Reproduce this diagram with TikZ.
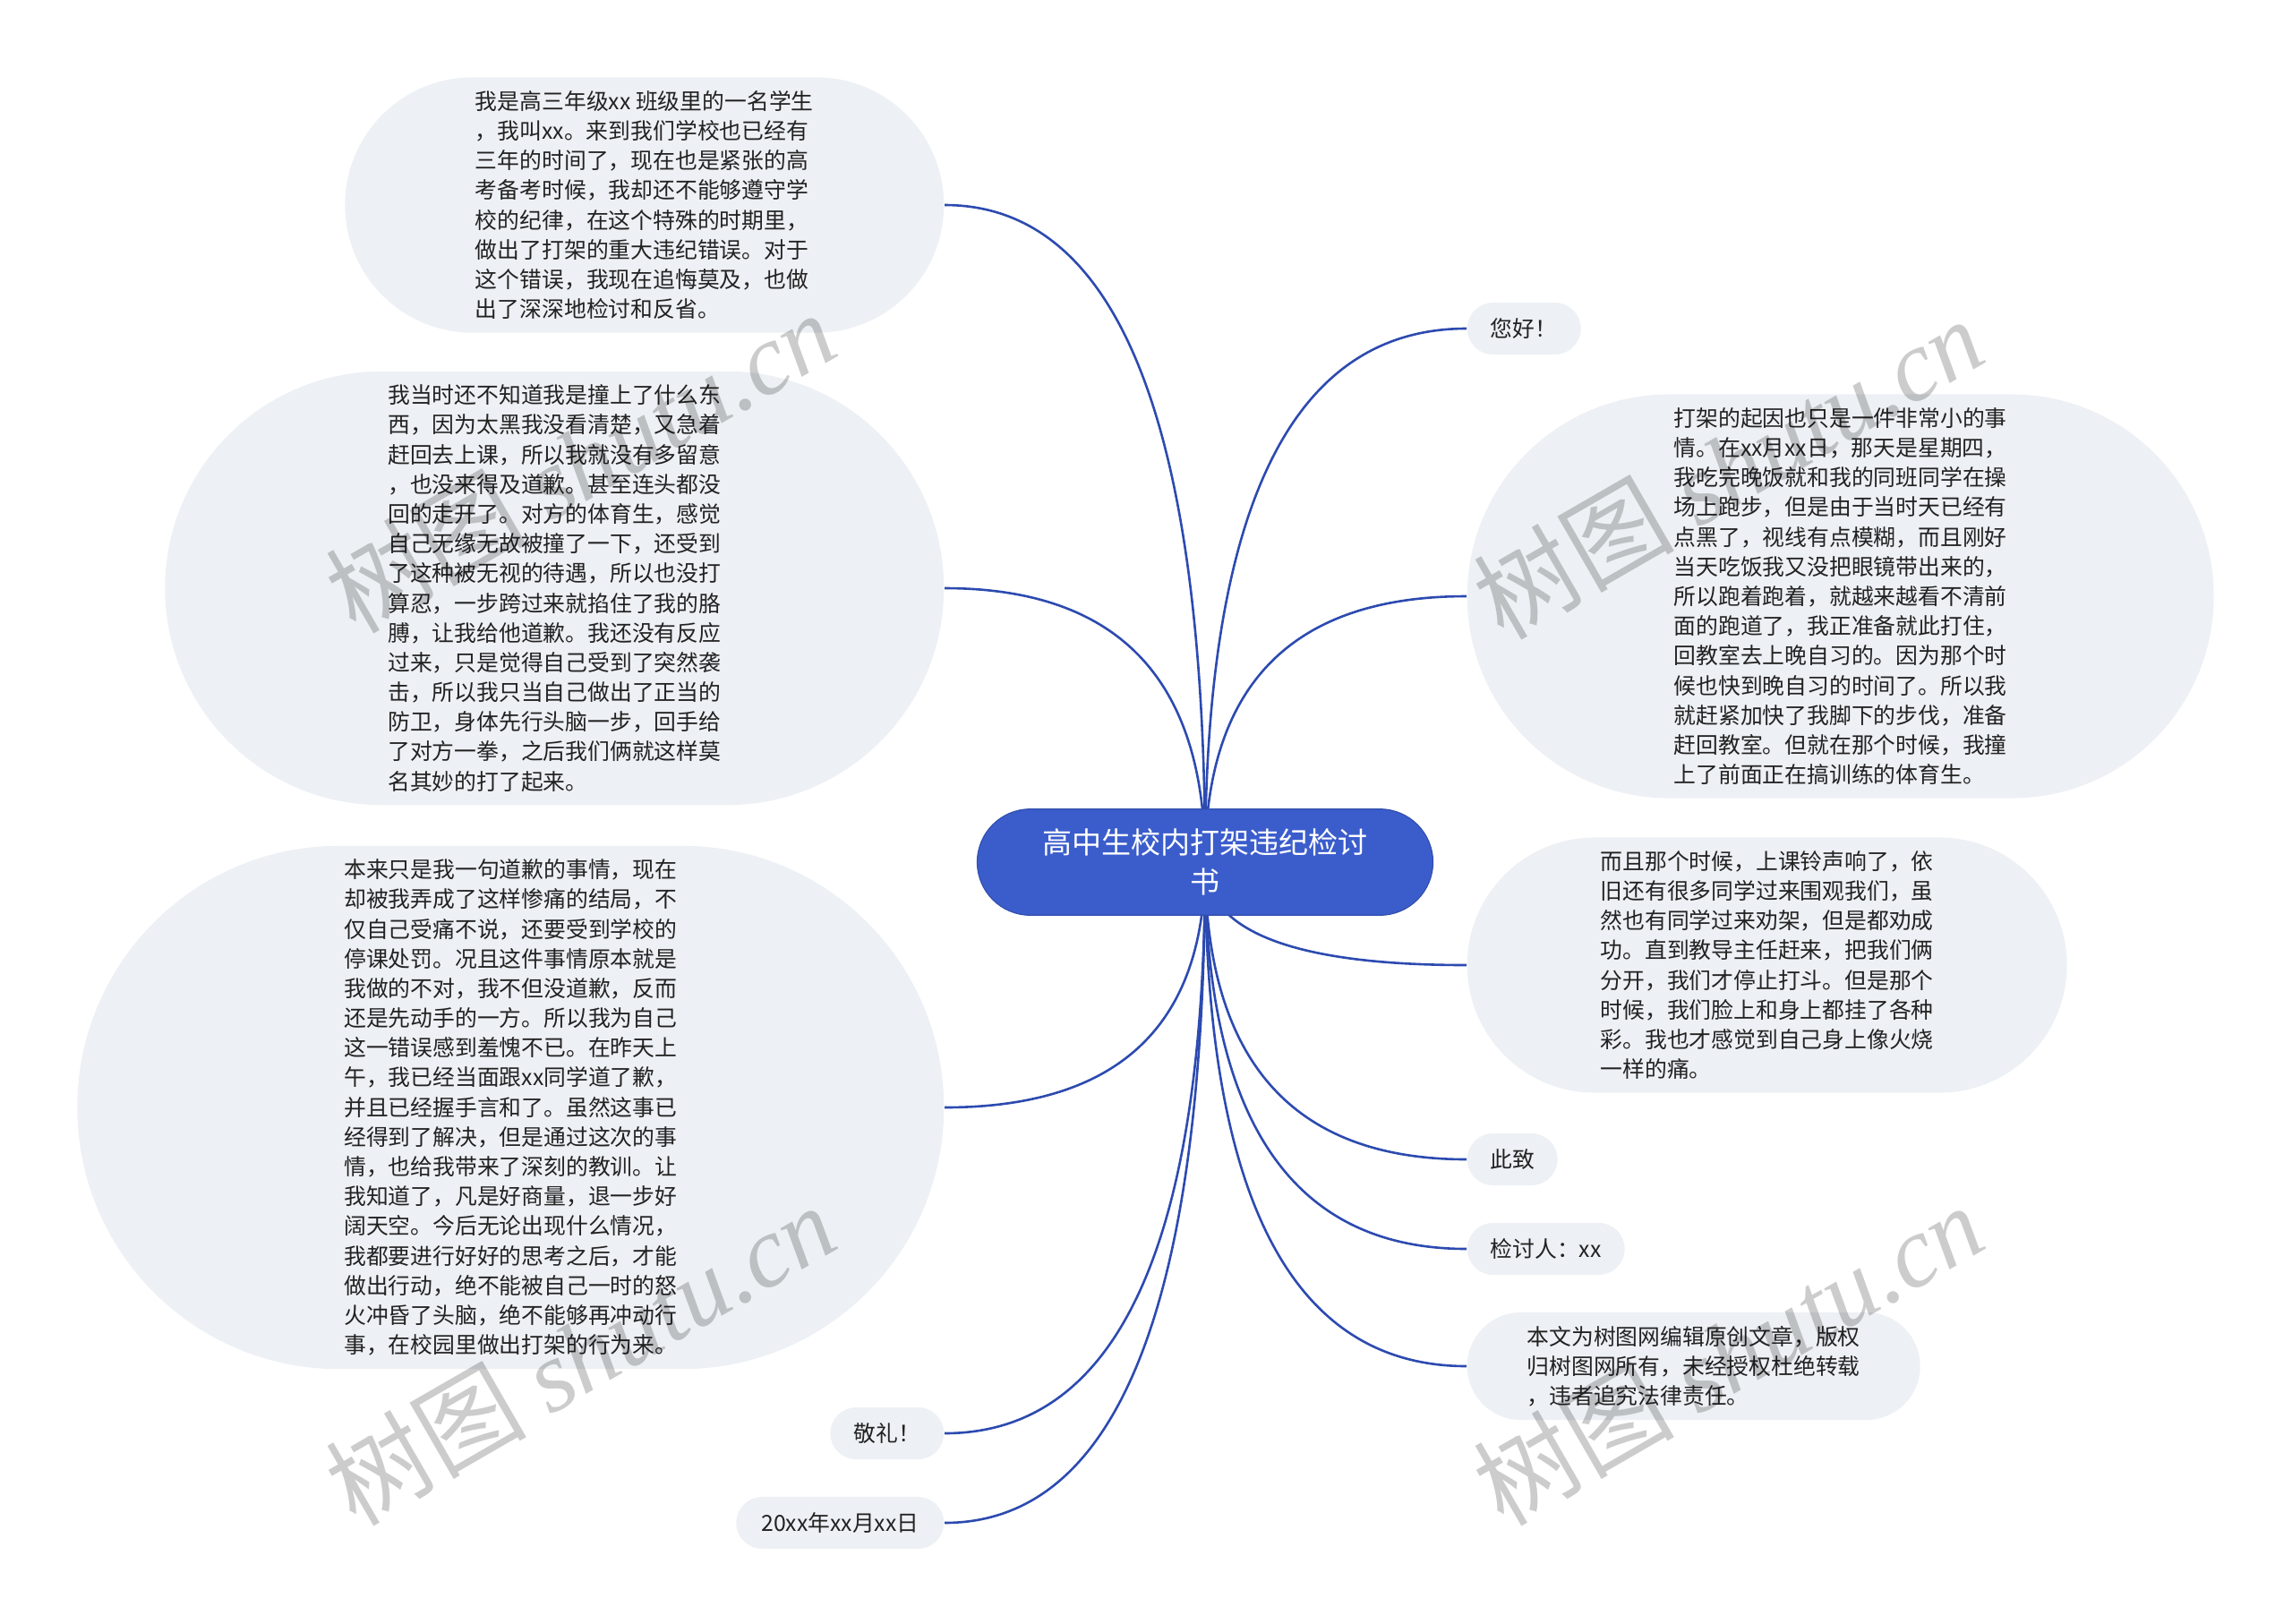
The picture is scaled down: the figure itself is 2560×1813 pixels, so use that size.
\documentclass[tikz,border=0pt]{standalone}
\usepackage{fontspec}
\setmainfont{Noto Sans CJK SC}
\newfontfamily\markfont{Liberation Serif}
\usetikzlibrary{shapes.misc,calc,backgrounds}
\definecolor{mapBlue}{RGB}{59,93,204}
\definecolor{mapLine}{RGB}{44,74,176}
\definecolor{mapBubble}{RGB}{237,240,244}
\definecolor{mapText}{RGB}{34,34,34}

\begin{document}
\begin{tikzpicture}[x=0.1mm, y=-0.1mm,
  root/.style={rounded rectangle, fill=mapBlue, draw=mapBlue!85!black, line width=0.12mm,
    text=white, align=center, inner xsep=1.05mm, inner ysep=2.2mm,
    font=\fontsize{9.4pt}{12.5pt}\selectfont},
  bubble/.style={rounded rectangle, fill=mapBubble, text=mapText, align=left,
    inner xsep=0.3mm, inner ysep=1.5mm, minimum height=5.8mm,
    font=\fontsize{7.06pt}{9.44pt}\selectfont},
  branch/.style={draw=mapLine, line width=0.26mm},
  watermark/.style={rotate=30, text=black, opacity=0.2,
    font=\fontsize{32pt}{32pt}\selectfont}]
  \useasboundingbox (0,0) rectangle (2560,1813);

  \node[root, minimum width=53mm] (root) at (1346,963) {高中生校内打架违纪检讨\\书};

  \node[bubble, anchor=east, minimum width=67.5mm] (intro) at (1055,229)
    {我是高三年级xx 班级里的一名学生\\
     ，我叫xx。来到我们学校也已经有\\
     三年的时间了，现在也是紧张的高\\
     考备考时候，我却还不能够遵守学\\
     校的纪律，在这个特殊的时期里，\\
     做出了打架的重大违纪错误。对于\\
     这个错误，我现在追悔莫及，也做\\
     出了深深地检讨和反省。};
  \node[bubble, anchor=east, minimum width=87.6mm] (dark) at (1055,657)
    {我当时还不知道我是撞上了什么东\\
     西，因为太黑我没看清楚，又急着\\
     赶回去上课，所以我就没有多留意\\
     ，也没来得及道歉。甚至连头都没\\
     回的走开了。对方的体育生，感觉\\
     自己无缘无故被撞了一下，还受到\\
     了这种被无视的待遇，所以也没打\\
     算忍，一步跨过来就掐住了我的胳\\
     膊，让我给他道歉。我还没有反应\\
     过来，只是觉得自己受到了突然袭\\
     击，所以我只当自己做出了正当的\\
     防卫，身体先行头脑一步，回手给\\
     了对方一拳，之后我们俩就这样莫\\
     名其妙的打了起来。};
  \node[bubble, anchor=east, minimum width=97.4mm] (apology) at (1055,1237)
    {本来只是我一句道歉的事情，现在\\
     却被我弄成了这样惨痛的结局，不\\
     仅自己受痛不说，还要受到学校的\\
     停课处罚。况且这件事情原本就是\\
     我做的不对，我不但没道歉，反而\\
     还是先动手的一方。所以我为自己\\
     这一错误感到羞愧不已。在昨天上\\
     午，我已经当面跟xx同学道了歉，\\
     并且已经握手言和了。虽然这事已\\
     经得到了解决，但是通过这次的事\\
     情，也给我带来了深刻的教训。让\\
     我知道了，凡是好商量，退一步好\\
     阔天空。今后无论出现什么情况，\\
     我都要进行好好的思考之后，才能\\
     做出行动，绝不能被自己一时的怒\\
     火冲昏了头脑，绝不能够再冲动行\\
     事，在校园里做出打架的行为来。};
  \node[bubble, anchor=east, minimum width=13.3mm] (salute) at (1055,1601) {敬礼！};
  \node[bubble, anchor=east, minimum width=23.8mm] (date) at (1055,1701) {20xx年xx月xx日};

  \node[bubble, anchor=west, minimum width=13.3mm] (hello) at (1638,367) {您好！};
  \node[bubble, anchor=west, minimum width=84mm] (cause) at (1638,666)
    {打架的起因也只是一件非常小的事\\
     情。在xx月xx日，那天是星期四，\\
     我吃完晚饭就和我的同班同学在操\\
     场上跑步，但是由于当时天已经有\\
     点黑了，视线有点模糊，而且刚好\\
     当天吃饭我又没把眼镜带出来的，\\
     所以跑着跑着，就越来越看不清前\\
     面的跑道了，我正准备就此打住，\\
     回教室去上晚自习的。因为那个时\\
     候也快到晚自习的时间了。所以我\\
     就赶紧加快了我脚下的步伐，准备\\
     赶回教室。但就在那个时候，我撞\\
     上了前面正在搞训练的体育生。};
  \node[bubble, anchor=west, minimum width=67.6mm] (bell) at (1638,1078)
    {而且那个时候，上课铃声响了，依\\
     旧还有很多同学过来围观我们，虽\\
     然也有同学过来劝架，但是都劝成\\
     功。直到教导主任赶来，把我们俩\\
     分开，我们才停止打斗。但是那个\\
     时候，我们脸上和身上都挂了各种\\
     彩。我也才感觉到自己身上像火烧\\
     一样的痛。};
  \node[bubble, anchor=west, minimum width=10.7mm] (regards) at (1638,1295) {此致};
  \node[bubble, anchor=west, minimum width=18.2mm] (signer) at (1638,1395) {检讨人：xx};
  \node[bubble, anchor=west, minimum width=51.2mm] (notice) at (1638,1526)
    {本文为树图网编辑原创文章，版权\\
     归树图网所有，未经授权杜绝转载\\
     ，违者追究法律责任。};

  \begin{scope}[on background layer]
    \foreach \leaf/\side in {intro/east, dark/east, apology/east, salute/east, date/east,
                             hello/west, cause/west, bell/west, regards/west, signer/west, notice/west}
      \draw[branch] (root.center)
        .. controls ($(root.center)!0.667!(root.center|-\leaf.\side)$)
        and ($(\leaf.\side)!0.667!(root.center|-\leaf.\side)$) .. (\leaf.\side);
  \end{scope}

  \node[watermark] (markA) at (648,515) {树图 {\markfont\itshape shutu.cn}};
  \node[watermark] (markB) at (1930,522) {树图 {\markfont\itshape shutu.cn}};
  \node[watermark] (markC) at (648,1512) {树图 {\markfont\itshape shutu.cn}};
  \node[watermark] (markD) at (1930,1512) {树图 {\markfont\itshape shutu.cn}};
\end{tikzpicture}
\end{document}
